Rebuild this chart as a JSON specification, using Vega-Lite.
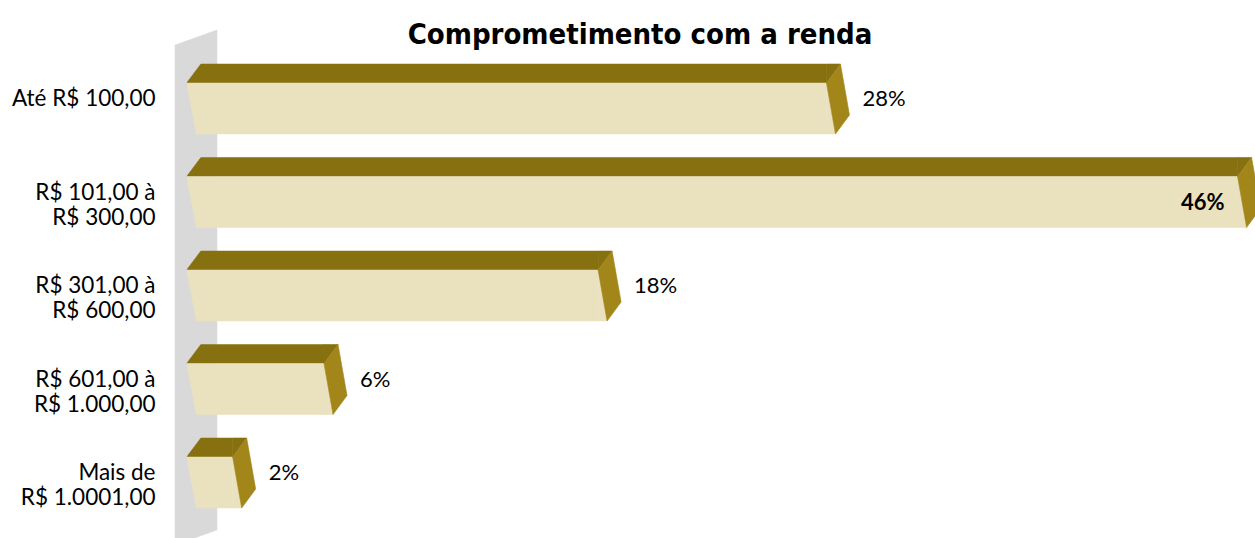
{
  "$schema": "https://vega.github.io/schema/vega-lite/v6.json",
  "autosize": "none",
  "width": 1062,
  "height": 467.5,
  "padding": {"left": 187, "top": 52.25, "right": 6, "bottom": 18.25},
  "background": "white",
  "config": {"view": {"stroke": null}},
  "title": {
    "text": "Comprometimento com a renda",
    "font": "Liberation Sans Narrow, DejaVu Sans Condensed, Roboto Condensed, Liberation Sans",
    "fontSize": 29,
    "fontWeight": "bold",
    "color": "black",
    "anchor": "middle",
    "dx": -78,
    "dy": 21,
    "offset": 0
  },
  "data": {
    "values": [
      {"faixa": "Até R$ 100,00", "valor": 0.28},
      {"faixa": "R$ 101,00 à R$ 300,00", "valor": 0.46},
      {"faixa": "R$ 301,00 à R$ 600,00", "valor": 0.18},
      {"faixa": "R$ 601,00 à R$ 1.000,00", "valor": 0.06},
      {"faixa": "Mais de R$ 1.0001,00", "valor": 0.02}
    ]
  },
  "encoding": {
    "y": {
      "field": "faixa",
      "type": "nominal",
      "sort": ["Até R$ 100,00", "R$ 101,00 à R$ 300,00", "R$ 301,00 à R$ 600,00", "R$ 601,00 à R$ 1.000,00", "Mais de R$ 1.0001,00"],
      "scale": {"paddingInner": 0, "paddingOuter": 0},
      "axis": {
        "title": null,
        "domain": false,
        "ticks": false,
        "labelPadding": 32,
        "labelFont": "Lato",
        "labelFontSize": 22.5,
        "labelColor": "black",
        "labelLineHeight": 25,
        "labelAlign": "right",
        "labelBaseline": "middle",
        "labelLimit": 300,
        "labelExpr": "split(replace(replace(datum.value, ' à ', ' à|'), 'de R', 'de|R'), '|')"
      }
    },
    "x": {"field": "valor", "type": "quantitative", "scale": {"domain": [0, 0.465], "nice": false, "zero": true}, "axis": null}
  },
  "layer": [
    {
      "transform": [{"filter": "datum.faixa == 'R$ 301,00 à R$ 600,00'"}],
      "mark": {"type": "point", "filled": true, "opacity": 1, "size": 4, "shape": "M-12,-241L30,-256L30,244L-12,259Z", "fill": "#D9D9D9", "stroke": "#D9D9D9", "strokeWidth": 0.5},
      "encoding": {"x": {"datum": 0, "type": "quantitative"}}
    },
    {
      "mark": {"type": "bar", "size": 19, "yOffset": -25.5, "fill": "#86700F", "stroke": "#86700F", "strokeWidth": 0.5}
    },
    {
      "mark": {"type": "bar", "size": 51, "yOffset": 9.5, "fill": "#EAE1BF", "stroke": "#EAE1BF", "strokeWidth": 0.5}
    },
    {
      "mark": {"type": "point", "filled": true, "opacity": 1, "size": 4, "shape": "M-1,-36L14,-36L-1,-16Z", "fill": "#D9D9D9", "stroke": "#D9D9D9", "strokeWidth": 0.6},
      "encoding": {"x": {"datum": 0, "type": "quantitative"}}
    },
    {
      "mark": {"type": "point", "filled": true, "opacity": 1, "size": 4, "shape": "M-1,-16L-1,36L9,36Z", "fill": "#D9D9D9", "stroke": "#D9D9D9", "strokeWidth": 0.6},
      "encoding": {"x": {"datum": 0, "type": "quantitative"}}
    },
    {
      "mark": {"type": "point", "filled": true, "opacity": 1, "size": 4, "shape": "M0,-35L14,-35L0,-16Z", "fill": "#86700F", "stroke": "#86700F", "strokeWidth": 0.6}
    },
    {
      "mark": {"type": "point", "filled": true, "opacity": 1, "size": 4, "shape": "M0,-16L9,35L0,35Z", "fill": "#EAE1BF", "stroke": "#EAE1BF", "strokeWidth": 0.6}
    },
    {
      "mark": {"type": "point", "filled": true, "opacity": 1, "size": 4, "shape": "M0,-16L14,-35L23,16L9,35Z", "fill": "#A2861A", "stroke": "#A2861A", "strokeWidth": 0.6}
    },
    {
      "transform": [{"filter": "datum.valor < 0.4"}],
      "mark": {"type": "text", "align": "left", "baseline": "middle", "dx": 36, "font": "Lato", "fontSize": 22, "color": "black"},
      "encoding": {"text": {"field": "valor", "type": "quantitative", "format": ".0%"}}
    },
    {
      "transform": [{"filter": "datum.valor >= 0.4"}],
      "mark": {"type": "text", "align": "right", "baseline": "middle", "dx": -13, "dy": 10, "font": "Lato", "fontSize": 22, "fontWeight": "bold", "color": "black"},
      "encoding": {"text": {"field": "valor", "type": "quantitative", "format": ".0%"}}
    }
  ]
}
